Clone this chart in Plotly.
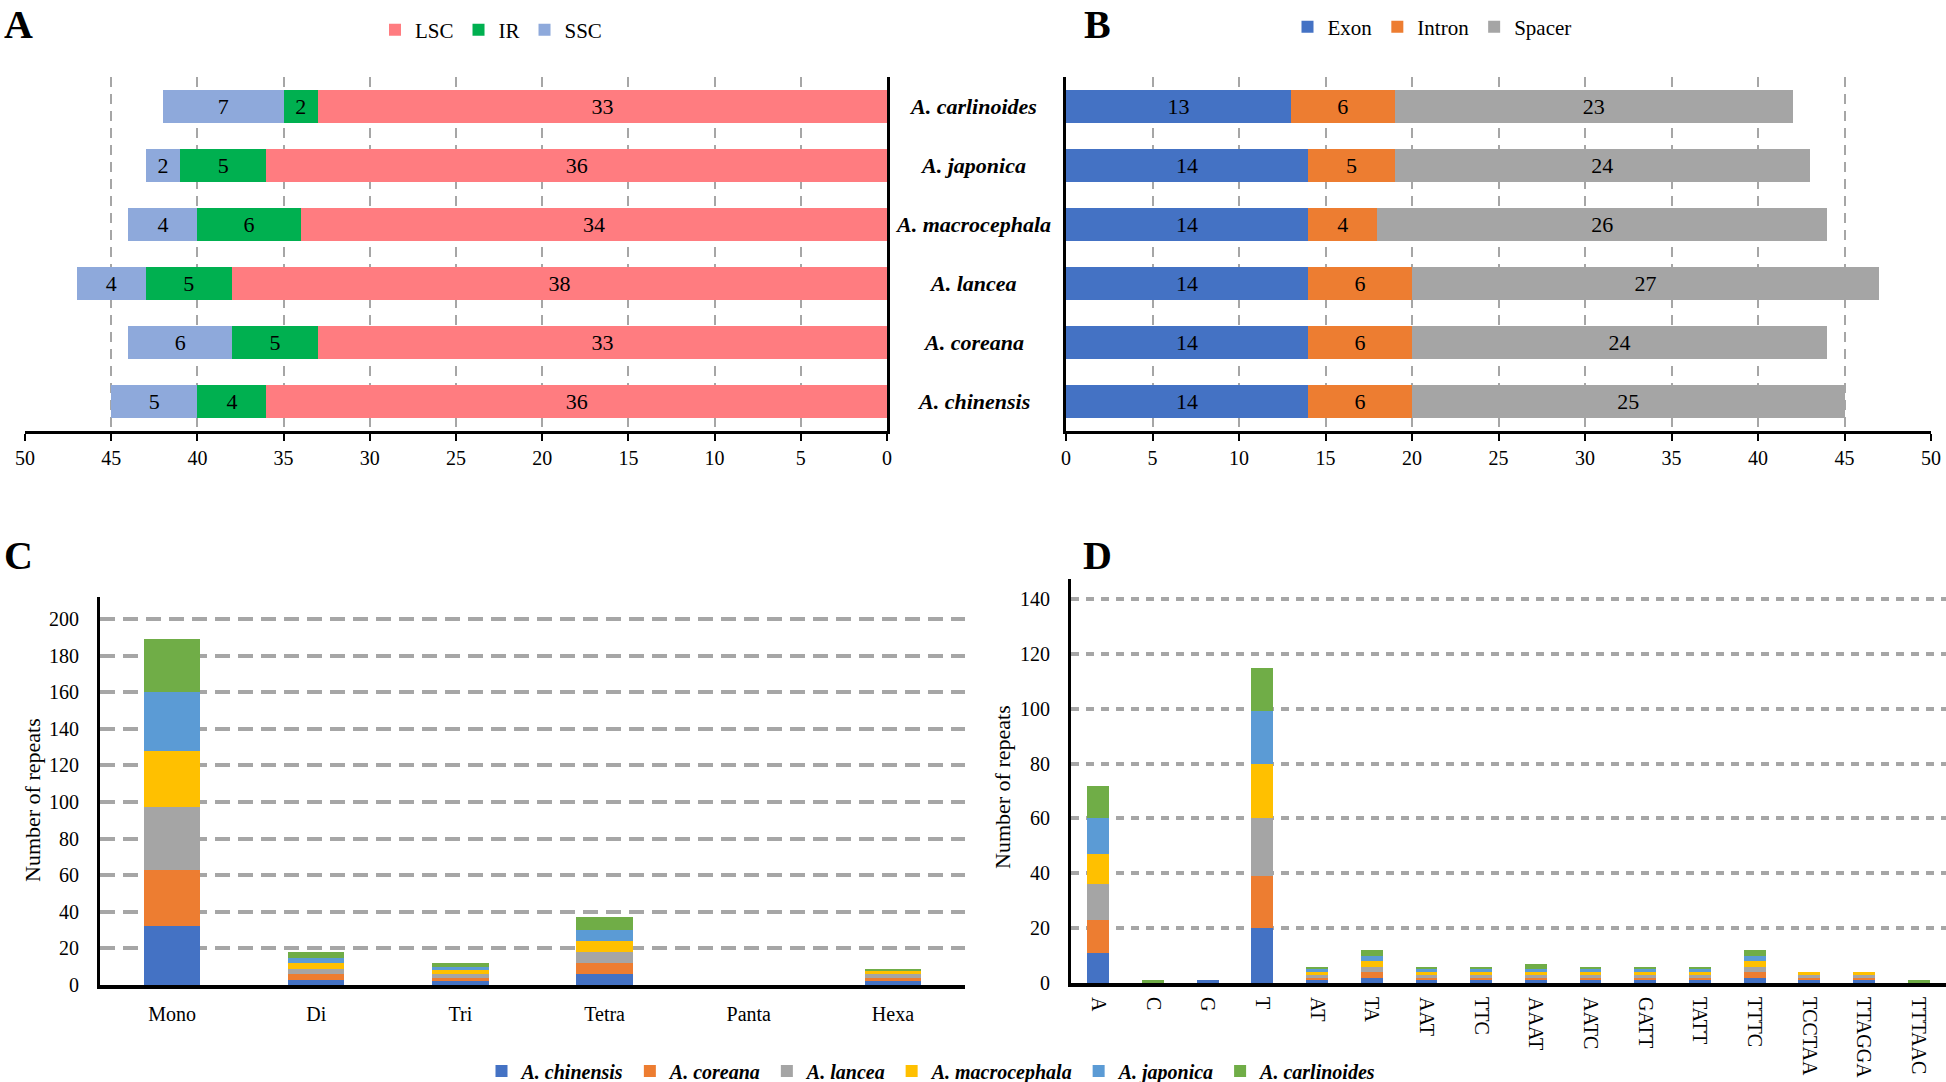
import plotly.graph_objects as go

W, H = 1946, 1082
def px(x): return x / W
def py(y): return 1 - y / H

FONT = "Liberation Serif, Times New Roman, serif"

# ---------------- Panel A / B data ----------------
species_ab = ["A. carlinoides", "A. japonica", "A. macrocephala", "A. lancea", "A. coreana", "A. chinensis"]
lsc = [33, 36, 34, 38, 33, 36]
ir = [2, 5, 6, 5, 5, 4]
ssc = [7, 2, 4, 4, 6, 5]
exon = [13, 14, 14, 14, 14, 14]
intron = [6, 5, 4, 6, 6, 6]
spacer = [23, 24, 26, 27, 24, 25]

# ---------------- Panel C data ----------------
ssr_types = ["Mono", "Di", "Tri", "Tetra", "Panta", "Hexa"]
species_cd = ["A. chinensis", "A. coreana", "A. lancea", "A. macrocephala", "A. japonica", "A. carlinoides"]
c_chinensis = [32, 3, 2, 6, 0, 2]
c_coreana = [31, 3, 2, 6, 0, 2]
c_lancea = [34, 3, 2, 6, 0, 2]
c_macrocephala = [31, 3, 2, 6, 0, 2]
c_japonica = [32, 3, 2, 6, 0, 0]
c_carlinoides = [29, 3, 2, 7, 0, 1]

# ---------------- Panel D data ----------------
motifs = ["A", "C", "G", "T", "AT", "TA", "AAT", "TTC", "AAAT", "AATC", "GATT", "TATT", "TTTC", "TCCTAA", "TTAGGA", "TTTAAC"]
d_chinensis = [11, 0, 1, 20, 1, 2, 1, 1, 1, 1, 1, 1, 2, 1, 1, 0]
d_coreana = [12, 0, 0, 19, 1, 2, 1, 1, 1, 1, 1, 1, 2, 1, 1, 0]
d_lancea = [13, 0, 0, 21, 1, 2, 1, 1, 1, 1, 1, 1, 2, 1, 1, 0]
d_macrocephala = [11, 0, 0, 20, 1, 2, 1, 1, 1, 1, 1, 1, 2, 1, 1, 0]
d_japonica = [13, 0, 0, 19, 1, 2, 1, 1, 1, 1, 1, 1, 2, 0, 0, 0]
d_carlinoides = [12, 1, 0, 16, 1, 2, 1, 1, 2, 1, 1, 1, 2, 0, 0, 1]

c_series = [c_chinensis, c_coreana, c_lancea, c_macrocephala, c_japonica, c_carlinoides]
d_series = [d_chinensis, d_coreana, d_lancea, d_macrocephala, d_japonica, d_carlinoides]
cd_colors = ["#4472C4", "#ED7D31", "#A5A5A5", "#FFC000", "#5B9BD5", "#70AD47"]

fig = go.Figure()

# Panel A
for name, vals, col in [("LSC", lsc, "#FF7C80"), ("IR", ir, "#00B050"), ("SSC", ssc, "#8EA9DB")]:
    fig.add_trace(go.Bar(
        y=species_ab, x=vals, orientation="h", name=name, marker=dict(color=col, line=dict(width=0)),
        text=vals, textposition="inside", insidetextanchor="middle", constraintext="none",
        textfont=dict(family=FONT, size=22, color="black"), width=0.56,
        xaxis="x", yaxis="y", legend="legend", hoverinfo="x+name"))

# Panel B
for name, vals, col in [("Exon", exon, "#4472C4"), ("Intron", intron, "#ED7D31"), ("Spacer", spacer, "#A5A5A5")]:
    fig.add_trace(go.Bar(
        y=species_ab, x=vals, orientation="h", name=name, marker=dict(color=col, line=dict(width=0)),
        text=vals, textposition="inside", insidetextanchor="middle", constraintext="none",
        textfont=dict(family=FONT, size=22, color="black"), width=0.56,
        xaxis="x2", yaxis="y2", legend="legend2", hoverinfo="x+name"))

# Panel C
for sp, vals, col in zip(species_cd, c_series, cd_colors):
    fig.add_trace(go.Bar(
        x=ssr_types, y=vals, name="<b><i>" + sp + "</i></b>", marker=dict(color=col, line=dict(width=0)),
        width=0.39, xaxis="x3", yaxis="y3", legend="legend3", legendgroup=sp, showlegend=True))

# Panel D
for sp, vals, col in zip(species_cd, d_series, cd_colors):
    fig.add_trace(go.Bar(
        x=motifs, y=vals, name="<b><i>" + sp + "</i></b>", marker=dict(color=col, line=dict(width=0)),
        width=0.4, xaxis="x4", yaxis="y4", legendgroup=sp, showlegend=False))

grid_col = "#A6A6A6"
tickfont = dict(family=FONT, size=20, color="black")

fig.update_layout(
    width=W, height=H, autosize=False,
    margin=dict(l=0, r=0, t=0, b=0, autoexpand=False),
    paper_bgcolor="white", plot_bgcolor="white",
    barmode="stack",
    font=dict(family=FONT, color="black"),
    xaxis=dict(domain=[px(25), px(887)], range=[50, 0], anchor="y", tick0=0, dtick=5,
               showgrid=True, griddash="10px,7px", gridcolor=grid_col, gridwidth=2,
               showline=True, linecolor="black", linewidth=3, zeroline=False, automargin=False,
               ticks="outside", ticklen=7, tickwidth=2, tickcolor="black", tickfont=tickfont),
    yaxis=dict(domain=[py(431), py(77)], anchor="x", side="right", type="category",
               categoryarray=species_ab, range=[5.5, -0.5], showline=True, linecolor="black",
               linewidth=3, showticklabels=False, showgrid=False, zeroline=False, automargin=False),
    xaxis2=dict(domain=[px(1066), px(1931)], range=[0, 50], anchor="y2", tick0=0, dtick=5,
                showgrid=True, griddash="10px,7px", gridcolor=grid_col, gridwidth=2,
                showline=True, linecolor="black", linewidth=3, zeroline=False, automargin=False,
                ticks="outside", ticklen=7, tickwidth=2, tickcolor="black", tickfont=tickfont),
    yaxis2=dict(domain=[py(431), py(77)], anchor="x2", side="left", type="category",
                categoryarray=species_ab, range=[5.5, -0.5], showline=True, linecolor="black",
                linewidth=3, showticklabels=False, showgrid=False, zeroline=False, automargin=False),
    xaxis3=dict(domain=[px(100), px(965)], anchor="y3", type="category", categoryarray=ssr_types,
                showline=True, linecolor="black", linewidth=4, ticks="", tickfont=tickfont,
                ticklabelstandoff=8, showgrid=False, zeroline=False, automargin=False),
    yaxis3=dict(domain=[py(985), py(597)], anchor="x3", range=[0, 212], tick0=0, dtick=20,
                showgrid=True, griddash="15px,8px", gridcolor=grid_col, gridwidth=4,
                showline=True, linecolor="black", linewidth=3, zeroline=False, automargin=False,
                ticks="", tickfont=tickfont, ticklabelstandoff=14),
    xaxis4=dict(domain=[px(1071), 1.0], anchor="y4", type="category", categoryarray=motifs,
                showline=True, linecolor="black", linewidth=4, ticks="", tickfont=tickfont,
                tickangle=90, ticklabelstandoff=6, showgrid=False, zeroline=False, automargin=False),
    yaxis4=dict(domain=[py(983), py(579)], anchor="x4", range=[0, 147.3], tick0=0, dtick=20,
                showgrid=True, griddash="8px,7px", gridcolor=grid_col, gridwidth=3.5,
                showline=True, linecolor="black", linewidth=3, zeroline=False, automargin=False,
                ticks="", tickfont=tickfont, ticklabelstandoff=14),
    legend=dict(x=px(491), y=py(30), xanchor="center", yanchor="middle", orientation="h",
                font=dict(family=FONT, size=21), traceorder="normal", itemwidth=30,
                bgcolor="rgba(0,0,0,0)"),
    legend2=dict(x=px(1432), y=py(27), xanchor="center", yanchor="middle", orientation="h",
                 font=dict(family=FONT, size=21), traceorder="normal", itemwidth=30,
                 bgcolor="rgba(0,0,0,0)"),
    legend3=dict(x=px(932), y=py(1071), xanchor="center", yanchor="middle", orientation="h",
                 font=dict(family=FONT, size=20), traceorder="normal", itemwidth=30,
                 bgcolor="rgba(0,0,0,0)"),
)

annotations = []
# species labels between A and B
for i, sp in enumerate(species_ab):
    annotations.append(dict(text="<b><i>" + sp + "</i></b>", x=px(973), xref="paper", y=i, yref="y",
                            xanchor="center", yanchor="middle", showarrow=False,
                            font=dict(family=FONT, size=22, color="black")))
# panel letters
for letter, x, y in [("A", 18, 0), ("B", 1097, 0)]:
    annotations.append(dict(text="<b>" + letter + "</b>", x=px(x), y=py(y), xref="paper", yref="paper",
                            xanchor="center", yanchor="top", showarrow=False,
                            font=dict(family=FONT, size=40, color="black")))
for letter, x, y in [("C", 18, 555), ("D", 1097, 555)]:
    annotations.append(dict(text="<b>" + letter + "</b>", x=px(x), y=py(y), xref="paper", yref="paper",
                            xanchor="center", yanchor="middle", showarrow=False,
                            font=dict(family=FONT, size=40, color="black")))
# y-axis titles
for x, y in [(32, 800), (1002, 787)]:
    annotations.append(dict(text="Number of repeats", x=px(x), y=py(y), xref="paper", yref="paper",
                            xanchor="center", yanchor="middle", textangle=-90, showarrow=False,
                            font=dict(family=FONT, size=22, color="black")))
fig.update_layout(annotations=annotations)

fig.write_html("out.html", config={"displayModeBar": False},
               post_script="document.body.style.margin='0';document.body.style.overflow='hidden';")
